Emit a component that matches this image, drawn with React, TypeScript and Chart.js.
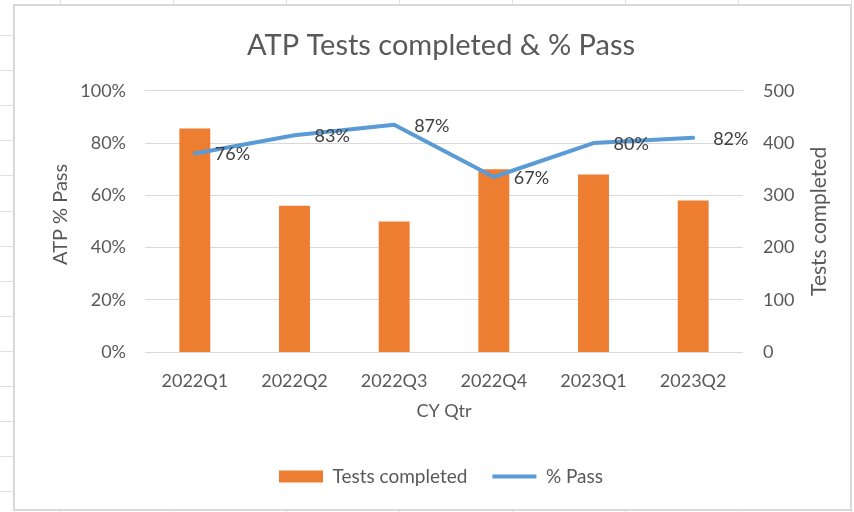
import React, { useEffect, useRef } from 'react';
import { Chart, registerables } from 'chart.js';

Chart.register(...registerables);

const categories = ['2022Q1', '2022Q2', '2022Q3', '2022Q4', '2023Q1', '2023Q2'];
const testsCompleted = [428, 280, 250, 350, 340, 290];
const passPct = [76, 83, 87, 67, 80, 82];
const pctTicks = [0, 20, 40, 60, 80, 100];
const countTicks = [0, 100, 200, 300, 400, 500];

const FONT = 'Lato, "Noto Sans", sans-serif';
const TEXT = '#595959';
const LABEL = '#404040';
const ORANGE = '#ED7D31';
const BLUE = '#5B9BD5';

const sheetPlugin = {
  id: 'sheet',
  beforeDraw(chart: any) {
    const ctx = chart.ctx;
    const W = chart.width;
    const H = chart.height;
    ctx.save();
    ctx.fillStyle = '#ffffff';
    ctx.fillRect(0, 0, W, H);
    ctx.strokeStyle = '#e0e0e0';
    ctx.lineWidth = 1;
    for (let k = 0; k < 15; k++) {
      const y = Math.round(35 + 35.1 * k) + 0.5;
      ctx.beginPath();
      ctx.moveTo(0, y);
      ctx.lineTo(14, y);
      ctx.stroke();
    }
    for (let k = 0; k < 8; k++) {
      const x = 60 + 113 * k + 0.5;
      ctx.beginPath();
      ctx.moveTo(x, 0);
      ctx.lineTo(x, 5);
      ctx.moveTo(x, 510);
      ctx.lineTo(x, H);
      ctx.stroke();
    }
    ctx.strokeStyle = '#d9d9d9';
    ctx.lineWidth = 2;
    ctx.strokeRect(14, 5, 837, 505);
    ctx.restore();
  },
};

const labelPlugin = {
  id: 'pctLabels',
  afterDatasetsDraw(chart: any) {
    const ctx = chart.ctx;
    const meta = chart.getDatasetMeta(1);
    ctx.save();
    ctx.font = `18px ${FONT}`;
    ctx.fillStyle = LABEL;
    ctx.textAlign = 'left';
    ctx.textBaseline = 'middle';
    meta.data.forEach((pt: any, i: number) => {
      ctx.fillText(`${passPct[i]}%`, pt.x + 20, pt.y + 1);
    });
    ctx.restore();
  },
  afterDraw(chart: any) {
    const ctx = chart.ctx;
    const area = chart.chartArea;
    const midY = (area.top + area.bottom) / 2;
    ctx.save();
    ctx.fillStyle = TEXT;
    ctx.textAlign = 'center';
    ctx.textBaseline = 'middle';
    ctx.font = `20px ${FONT}`;
    ctx.save();
    ctx.translate(61, midY - 7);
    ctx.rotate(-Math.PI / 2);
    ctx.fillText('ATP % Pass', 0, 0);
    ctx.restore();
    ctx.font = `21px ${FONT}`;
    ctx.translate(819, midY);
    ctx.rotate(-Math.PI / 2);
    ctx.fillText('Tests completed', 0, 0);
    ctx.restore();
  },
};

export default function App() {
  const ref = useRef<HTMLCanvasElement>(null);

  useEffect(() => {
    if (!ref.current) return;
    Chart.defaults.font.family = FONT;
    Chart.defaults.color = TEXT;
    const chart = new Chart(ref.current, {
      type: 'bar',
      data: {
        labels: categories,
        datasets: [
          {
            type: 'bar',
            label: 'Tests completed',
            data: testsCompleted,
            backgroundColor: ORANGE,
            borderWidth: 0,
            yAxisID: 'y1',
            barPercentage: 0.31,
            categoryPercentage: 1,
            order: 1,
          },
          {
            type: 'line',
            label: '% Pass',
            data: passPct,
            borderColor: BLUE,
            backgroundColor: BLUE,
            borderWidth: 4,
            pointRadius: 0,
            tension: 0,
            borderJoinStyle: 'round',
            borderCapStyle: 'round',
            yAxisID: 'y',
            order: 0,
          },
        ],
      } as any,
      options: {
        responsive: false,
        animation: false,
        layout: { padding: { left: 28, right: 0, top: 0, bottom: 16 } },
        plugins: {
          tooltip: { enabled: false },
          title: {
            display: true,
            text: 'ATP Tests completed & % Pass',
            color: TEXT,
            font: { size: 29, weight: 'normal', family: FONT },
            padding: { top: 28, bottom: 28 },
          },
          legend: {
            position: 'bottom',
            labels: {
              usePointStyle: true,
              pointStyleWidth: 44,
              boxHeight: 12,
              padding: 25,
              color: TEXT,
              font: { size: 19, family: FONT },
              sort: (a: any, b: any) => a.datasetIndex - b.datasetIndex,
              generateLabels: (chart: any) => {
                const items = Chart.defaults.plugins.legend.labels.generateLabels(chart);
                return items.map((it: any) =>
                  it.datasetIndex === 0
                    ? { ...it, pointStyle: 'rect', fillStyle: ORANGE, strokeStyle: ORANGE, lineWidth: 0 }
                    : { ...it, pointStyle: 'line', fillStyle: BLUE, strokeStyle: BLUE, lineWidth: 4 }
                );
              },
            },
          },
        },
        scales: {
          x: {
            grid: { display: false, drawTicks: false },
            border: { display: false },
            ticks: { padding: 18, color: TEXT, font: { size: 18, family: FONT } },
            title: {
              display: true,
              text: 'CY Qtr',
              color: TEXT,
              font: { size: 18, family: FONT },
              padding: { top: 8, bottom: 20 },
            },
            afterFit: (s: any) => { s.height = 90; },
          },
          y: {
            position: 'left',
            min: 0,
            max: 100,
            afterBuildTicks: (s: any) => { s.ticks = pctTicks.map((v) => ({ value: v })); },
            grid: { color: '#d9d9d9', lineWidth: 1, drawTicks: false },
            border: { display: false },
            ticks: {
              padding: 19,
              color: TEXT,
              font: { size: 18, family: FONT },
              callback: (v: any) => `${v}%`,
            },
            afterFit: (s: any) => { s.width = 117; },
          },
          y1: {
            position: 'right',
            min: 0,
            max: 500,
            afterBuildTicks: (s: any) => { s.ticks = countTicks.map((v) => ({ value: v })); },
            grid: { display: false, drawTicks: false },
            border: { display: false },
            ticks: { padding: 20, color: TEXT, font: { size: 18, family: FONT } },
            afterFit: (s: any) => { s.width = 111; },
          },
        },
      } as any,
      plugins: [sheetPlugin, labelPlugin],
    });
    return () => chart.destroy();
  }, []);

  return (
    <div style={{ position: 'fixed', left: 0, top: 0, width: 854, height: 512 }}>
      <canvas ref={ref} width={854} height={512} style={{ width: 854, height: 512, display: 'block' }} />
    </div>
  );
}
